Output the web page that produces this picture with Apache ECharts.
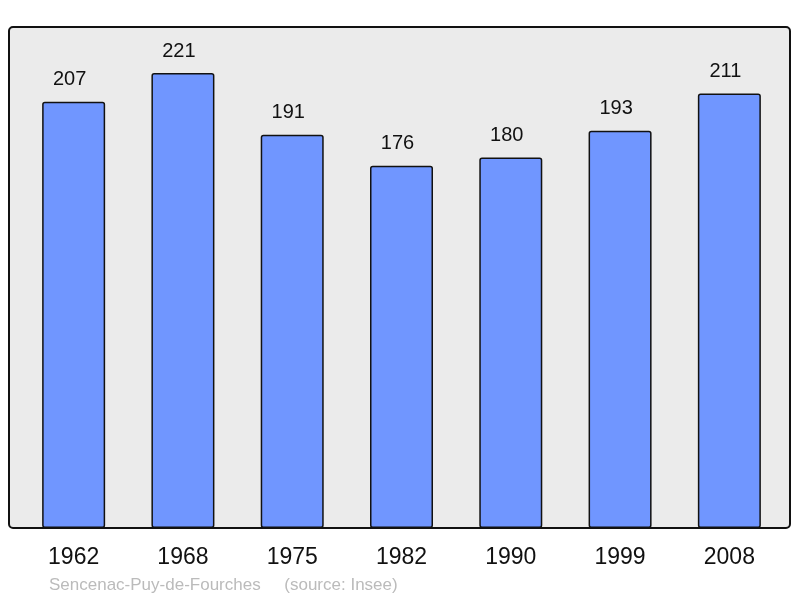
<!DOCTYPE html>
<html>
<head>
<meta charset="UTF-8">
<title>Sencenac-Puy-de-Fourches</title>
<script src="https://cdn.jsdelivr.net/npm/echarts@6/dist/echarts.min.js"></script>
<style>
  html, body { margin: 0; padding: 0; background: #fff; }
  #chart { width: 800px; height: 598px; }
</style>
</head>
<body>
<div id="chart"></div>
<script>
// données population
var years = ['1962', '1968', '1975', '1982', '1990', '1999', '2008'];
var population = [207, 221, 191, 176, 180, 193, 211];
var footer = 'Sencenac-Puy-de-Fourches     (source: Insee)';

var chart = echarts.init(document.getElementById('chart'));

var option = {
  animation: false,
  graphic: [{
    type: 'rect',
    z: -1,
    shape: { x: 9, y: 27, width: 781, height: 501, r: 4 },
    style: { fill: '#ebebeb', stroke: '#111', lineWidth: 2 }
  }, {
    type: 'text',
    left: 49,
    top: 577,
    style: { text: footer, fill: '#bbbbbb', font: '17px "Liberation Sans", Arial, sans-serif' }
  }],
  grid: { left: 19, right: 16, top: 13.3, bottom: 70 },
  xAxis: {
    type: 'category',
    data: years,
    axisLine: { show: false },
    axisTick: { show: false },
    axisLabel: {
      margin: 18,
      fontSize: 23,
      color: '#111',
      fontFamily: 'Liberation Sans'
    }
  },
  yAxis: {
    type: 'value',
    min: 0,
    max: 250,
    show: false,
    splitLine: { show: false }
  },
  series: [{
    type: 'bar',
    data: population,
    barWidth: 63,
    itemStyle: {
      color: '#7096ff',
      borderColor: '#111',
      borderWidth: 1.5,
      borderRadius: 2
    },
    label: {
      show: true,
      position: 'top',
      distance: 12,
      offset: [-4, 0],
      fontSize: 20,
      color: '#111',
      fontFamily: 'Liberation Sans'
    }
  }]
};

chart.setOption(option);
</script>
</body>
</html>
